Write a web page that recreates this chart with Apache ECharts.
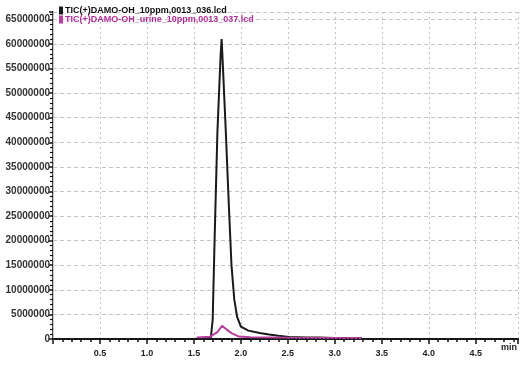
<!DOCTYPE html>
<html>
<head>
<meta charset="utf-8">
<script src="https://cdn.jsdelivr.net/npm/echarts@6/dist/echarts.min.js"></script>
<style>
  html, body { margin: 0; padding: 0; background: #fff; }
  #main { width: 521px; height: 369px; }
</style>
</head>
<body>
<div id="main"></div>
<script>
// retention time (min) and intensity for the two TIC traces
const stdName = 'TIC(+)DAMO-OH_10ppm,0013_036.lcd'
const stdTime = [1.53, 1.60, 1.68, 1.70, 1.72, 1.75, 1.785, 1.795, 1.805, 1.84, 1.87, 1.90, 1.93, 1.96, 2.00, 2.08, 2.20, 2.30, 2.40, 2.51, 2.70, 2.83, 3.00, 3.29]
const stdValue = [200000, 200000, 200000, 4000000, 20000000, 42000000, 58000000, 61000000, 57000000, 42000000, 28000000, 15000000, 8000000, 4500000, 2500000, 1700000, 1200000, 900000, 650000, 400000, 320000, 280000, 220000, 160000]

const urineName = 'TIC(+)DAMO-OH_urine_10ppm,0013_037.lcd'
const urineTime = [1.53, 1.55, 1.67, 1.69, 1.75, 1.80, 1.85, 1.90, 1.98, 2.10, 2.50, 3.00, 3.29]
const urineValue = [300000, 450000, 450000, 200000, 1400000, 2700000, 1900000, 1200000, 500000, 350000, 250000, 200000, 150000]

const xTicks = ['0.5', '1.0', '1.5', '2.0', '2.5', '3.0', '3.5', '4.0', '4.5']

const pairs = (t, v) => t.map((x, i) => [x, v[i]])

const myChart = echarts.init(document.getElementById('main'))
myChart.setOption({
  animation: false,
  grid: { left: 53, right: 2, top: 12, bottom: 30 },
  legend: {
    orient: 'vertical',
    left: 54,
    top: 1,
    itemGap: 0,
    itemWidth: 4,
    itemHeight: 8,
    icon: 'rect',
    textStyle: { fontSize: 9, fontWeight: 'bold', padding: [0, 0, 0, -3] },
    data: [
      { name: stdName, textStyle: { color: '#111' } },
      { name: urineName, textStyle: { color: '#b0309a' } }
    ]
  },
  xAxis: [
    {
      type: 'value',
      min: 0,
      max: 4.95,
      interval: 0.5,
      offset: 6,
      name: 'min',
      nameLocation: 'end',
      nameGap: -17,
      nameTextStyle: { fontSize: 9, fontWeight: 'bold', color: '#222', verticalAlign: 'top', padding: [4, 0, 0, 0] },
      axisLine: { lineStyle: { color: '#111', width: 2 } },
      axisTick: { length: 5, lineStyle: { color: '#111', width: 1.5 } },
      minorTick: { show: true, splitNumber: 5, length: 3, lineStyle: { color: '#111', width: 1.5 } },
      axisLabel: {
        fontSize: 9,
        fontWeight: 'bold',
        color: '#222',
        margin: 4,
        formatter: v => (v === 0 ? '' : xTicks[Math.round(v / 0.5) - 1] || '')
      },
      splitLine: { show: true, lineStyle: { color: '#c4c4c4', type: [2, 3] } }
    },
    {
      type: 'value',
      position: 'top',
      min: 0,
      max: 4.95,
      axisLine: { show: true, lineStyle: { color: '#111', width: 1.5 } },
      axisTick: { show: false },
      axisLabel: { show: false },
      splitLine: { show: false }
    }
  ],
  yAxis: [
    {
      type: 'value',
      min: 0,
      max: 66500000,
      interval: 5000000,
      axisLine: { show: true, lineStyle: { color: '#111', width: 1.5 } },
      axisTick: { show: true, length: 4, lineStyle: { color: '#111', width: 1.5 } },
      minorTick: { show: true, splitNumber: 5, length: 3, lineStyle: { color: '#111', width: 1.2 } },
      axisLabel: { fontSize: 10, fontWeight: 'bold', color: '#333', margin: 3, formatter: v => String(v) },
      splitLine: { show: true, lineStyle: { color: '#c4c4c4', type: [4, 3] } }
    },
    {
      type: 'value',
      position: 'right',
      min: 0,
      max: 66500000,
      axisLine: { show: true, lineStyle: { color: '#c8c8c8', width: 1 } },
      axisTick: { show: false },
      axisLabel: { show: false },
      splitLine: { show: false }
    }
  ],
  series: [
    {
      name: stdName,
      type: 'line',
      showSymbol: false,
      data: pairs(stdTime, stdValue),
      lineStyle: { color: '#1a1a1a', width: 2 },
      itemStyle: { color: '#1a1a1a' },
      markLine: {
        silent: true,
        symbol: 'none',
        label: { show: false },
        lineStyle: { color: '#222', type: [2, 2], width: 1.5 },
        data: [{ yAxis: 0 }]
      },
      z: 3
    },
    {
      name: urineName,
      type: 'line',
      showSymbol: false,
      data: pairs(urineTime, urineValue),
      lineStyle: { color: '#b5409e', width: 2 },
      itemStyle: { color: '#b5409e' },
      z: 4
    }
  ]
})
</script>
</body>
</html>
